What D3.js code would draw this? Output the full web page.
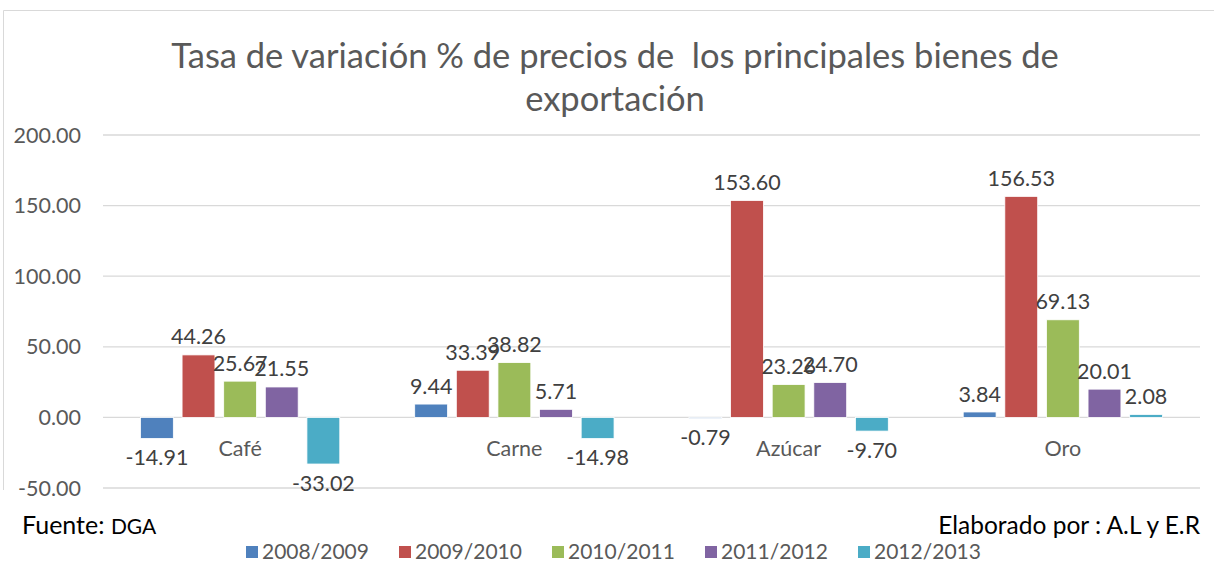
<!DOCTYPE html>
<html>
<head>
<meta charset="utf-8">
<script src="https://cdn.jsdelivr.net/npm/d3@7"></script>
<style>
  body { margin: 0; background: #fff; }
  svg { display: block; font-family: Lato, "Open Sans", sans-serif; }
</style>
</head>
<body>
<div id="chart"></div>
<script>
// Data
const categories = ["Café", "Carne", "Azúcar", "Oro"];
const seriesNames = ["2008/2009", "2009/2010", "2010/2011", "2011/2012", "2012/2013"];
const values = [
  [-14.91, 9.44, -0.79, 3.84],
  [44.26, 33.39, 153.60, 156.53],
  [25.67, 38.82, 23.26, 69.13],
  [21.55, 5.71, 24.70, 20.01],
  [-33.02, -14.98, -9.70, 2.08]
];
const yTicks = [-50, 0, 50, 100, 150, 200];
const colors = ["#4F81BD", "#C0504D", "#9BBB59", "#8064A2", "#4BACC6"];

const width = 1214, height = 587;
const margin = {left: 103, right: 14};
const y0 = 488, y1 = 135;   // pixel rows for -50 and 200

// Excel style numbers: hyphen minus, two decimals
const fmt = v => d3.format(".2f")(v).replace("\u2212", "-");

const svg = d3.select("#chart").append("svg")
  .attr("width", width)
  .attr("height", height);

// chart frame (clipped at bottom in the reference)
svg.append("path")
  .attr("d", `M3.5,490 V10.5 H${width}`)
  .attr("fill", "none")
  .attr("stroke", "#d9d9d9");

const x = d3.scaleBand()
  .domain(categories)
  .range([margin.left, width - margin.right]);

const xs = d3.scaleBand()
  .domain(seriesNames)
  .range([0, x.bandwidth()])
  .paddingInner(0.21)
  .paddingOuter(0.9);

const y = d3.scaleLinear()
  .domain([-50, 200])
  .range([y0, y1]);

// gridlines + tick labels
const grid = svg.append("g");
grid.selectAll("line")
  .data(yTicks)
  .join("line")
    .attr("x1", margin.left)
    .attr("x2", width - margin.right)
    .attr("y1", d => y(d))
    .attr("y2", d => y(d))
    .attr("stroke", "#d9d9d9")
    .attr("stroke-width", 1.3);

grid.selectAll("text")
  .data(yTicks)
  .join("text")
    .attr("x", 81)
    .attr("y", d => y(d))
    .attr("dy", "0.35em")
    .attr("text-anchor", "end")
    .attr("font-size", 21.5)
    .attr("fill", "#595959")
    .text(d => fmt(d));

// bars
const rows = [];
seriesNames.forEach((s, i) => {
  categories.forEach((c, j) => rows.push({series: s, si: i, cat: c, value: values[i][j]}));
});

svg.append("g")
  .selectAll("rect")
  .data(rows)
  .join("rect")
    .attr("x", d => x(d.cat) + xs(d.series))
    .attr("width", xs.bandwidth())
    .attr("y", d => y(Math.max(0, d.value)))
    .attr("height", d => Math.abs(y(d.value) - y(0)))
    .attr("fill", d => colors[d.si])
    .attr("stroke", "#fff")
    .attr("stroke-width", 0.8);

// category labels
svg.append("g")
  .selectAll("text")
  .data(categories)
  .join("text")
    .attr("x", d => x(d) + x.bandwidth() / 2)
    .attr("y", y(0) + 31)
    .attr("dy", "0.35em")
    .attr("text-anchor", "middle")
    .attr("font-size", 21.5)
    .attr("fill", "#595959")
    .text(d => d);

// data labels
svg.append("g")
  .selectAll("text")
  .data(rows)
  .join("text")
    .attr("x", d => x(d.cat) + xs(d.series) + xs.bandwidth() / 2)
    .attr("y", d => d.value >= 0 ? y(d.value) - 18 : y(d.value) + 19)
    .attr("dy", "0.35em")
    .attr("text-anchor", "middle")
    .attr("font-size", 21.5)
    .attr("fill", "#404040")
    .text(d => fmt(d.value));

// title
const title = svg.append("text")
  .attr("text-anchor", "middle")
  .attr("font-size", 34.5)
  .attr("fill", "#595959");
title.append("tspan").attr("x", 615).attr("y", 68)
  .text("Tasa de variación % de precios de\u00a0 los principales bienes de");
title.append("tspan").attr("x", 615).attr("y", 111)
  .text("exportación");

// source notes
const src = svg.append("text")
  .attr("x", 22)
  .attr("y", 534)
  .attr("fill", "#000");
src.append("tspan").attr("font-size", 25).text("Fuente: ");
src.append("tspan").attr("font-size", 21).text("DGA");

svg.append("text")
  .attr("x", 1200)
  .attr("y", 534)
  .attr("text-anchor", "end")
  .attr("font-size", 24.5)
  .attr("fill", "#000")
  .text("Elaborado por : A.L y E.R");

// legend
const legend = svg.append("g")
  .selectAll("g")
  .data(seriesNames)
  .join("g")
    .attr("transform", (d, i) => `translate(${246 + i * 153},552)`);

legend.append("rect")
  .attr("y", -6)
  .attr("width", 12)
  .attr("height", 12)
  .attr("fill", (d, i) => colors[i]);

legend.append("text")
  .attr("x", 16)
  .attr("dy", "0.35em")
  .attr("font-size", 21)
  .attr("fill", "#595959")
  .text(d => d);
</script>
</body>
</html>
